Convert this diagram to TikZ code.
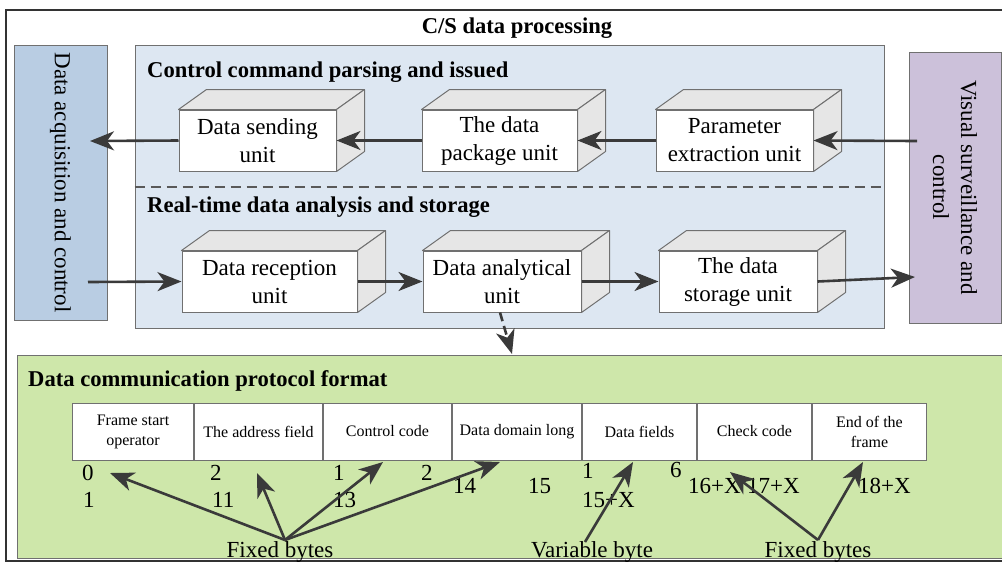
\documentclass[tikz,border=0pt]{standalone}
\usepackage{fontspec}
\setmainfont{Liberation Serif}
\usetikzlibrary{arrows.meta}

\definecolor{acqblue}{HTML}{B9CDE3}
\definecolor{panelblue}{HTML}{DDE7F2}
\definecolor{vispurple}{HTML}{CCC1DA}
\definecolor{protogreen}{HTML}{CEE7AA}
\definecolor{facegray}{HTML}{E6E6E6}
\definecolor{edgegray}{HTML}{707070}
\definecolor{arrowgray}{HTML}{3A3A3A}

\tikzset{
  big/.style={font=\fontsize{23}{28}\selectfont},
  head/.style={font=\fontsize{22.6}{27}\selectfont\bfseries},
  small/.style={font=\fontsize{16}{20}\selectfont},
  panel/.style={draw=edgegray, line width=1pt, inner sep=0pt},
  unitfront/.style={draw=edgegray, line width=1pt, fill=white, minimum height=61,
    inner sep=0pt, align=center, big},
  face/.style={draw=edgegray, line width=1pt, fill=facegray, line join=round},
  flow/.style={draw=arrowgray, line width=2.6pt,
    -{Stealth[length=24pt,width=19pt,inset=7pt]}},
  pointer/.style={draw=arrowgray, line width=2.6pt,
    -{Stealth[length=24pt,width=19pt,inset=7pt]}},
  cell/.style={draw=edgegray, line width=1pt, fill=white, minimum height=57,
    inner sep=0pt, align=center, small},
  num/.style={big, anchor=base west, inner sep=0pt},
}

% a processing unit drawn as a box: white front, grey top and side faces
\newcommand\unitblock[4]{%
  \node[unitfront, minimum width=#3] (#1) at (#2) {#4};
  \draw[face] (#1.north west) -- ++(28,-20) -- ([shift={(28,-20)}]#1.north east)
    -- (#1.north east) -- cycle;
  \draw[face] (#1.north east) -- ++(28,-20) -- ([shift={(28,-20)}]#1.south east)
    -- (#1.south east) -- cycle;
}

\begin{document}
\begin{tikzpicture}[x=1pt, y=-1pt]
\useasboundingbox (0,0) rectangle (1002,566);
\clip (0,0) rectangle (1002,566);

% outer frame and title
\draw[line width=1.6pt, draw=black!80] (6,10) rectangle (1015,561);
\node[head, anchor=base] (title) at (517,33) {C/S data processing};

% side blocks
\node[panel, fill=acqblue, minimum width=93, minimum height=275] (acq) at (60.5,182.5) {};
\node[big, rotate=-90] (acqlabel) at (acq.center) {Data acquisition and control};
\node[panel, fill=vispurple, minimum width=92, minimum height=271] (vis) at (955,187.5) {};
\node[big, rotate=-90, align=center] (vislabel) at (vis.center) {Visual surveillance and\\control};

% central processing panel
\node[panel, fill=panelblue, minimum width=749, minimum height=283] (core) at (509.5,186.5) {};
\draw[draw=black!65, line width=1.5pt, dash pattern=on 10pt off 6pt]
  (core.west |- 0,187) coordinate (sepL) -- (core.east |- 0,187) coordinate (sepR);
\node[head, anchor=base west, inner sep=0pt] (cmdhead) at (147,77) {Control command parsing and issued};
\node[head, anchor=base west, inner sep=0pt] (rthead) at (147,212) {Real-time data analysis and storage};

% command path
\unitblock{sending}{257.5,140.5}{157}{Data sending\\unit}
\unitblock{package}{499.5,140.5}{155}{The data\\package unit}
\unitblock{param}{734.5,140.5}{157}{Parameter\\extraction unit}

% data path
\unitblock{reception}{269.5,281.5}{175}{Data reception\\unit}
\unitblock{analysis}{502,281.5}{158}{Data analytical\\unit}
\unitblock{storage}{738,281.5}{158}{The data\\storage unit}

% connector end points inside the side blocks
\coordinate (acqin) at (90,141);
\coordinate (acqout) at (88,282);
\coordinate (visout) at (917,141);
\coordinate (visin) at (915,277);

\draw[flow] (visout) -- (param.east);
\draw[flow] (param.west) -- (package.east);
\draw[flow] (package.west) -- (sending.east);
\draw[flow] (sending.west) -- (acqin);

\draw[flow] (acqout) -- (reception.west);
\draw[flow] (reception.east) -- (analysis.west);
\draw[flow] (analysis.east) -- (storage.west);
\draw[flow] (storage.east) -- (visin);

% protocol panel
\node[panel, fill=protogreen, minimum width=1000, minimum height=203, anchor=north west] (proto) at (17,355) {};
\coordinate (protoin) at (512,354);
\draw[flow, dash pattern=on 9pt off 5pt] ([xshift=-2]analysis.south) -- (protoin);
\node[head, anchor=base west, inner sep=0pt] (protohead) at (28,386) {Data communication protocol format};

% frame layout
\node[cell, minimum width=121, anchor=west] (c1) at (72,431.5) {Frame start\\operator};
\node[cell, minimum width=128, anchor=west] (c2) at (c1.east) {The address field};
\node[cell, minimum width=128, anchor=west] (c3) at (c2.east) {Control code};
\node[cell, minimum width=129, anchor=west] (c4) at (c3.east) {Data domain long};
\node[cell, minimum width=114, anchor=west] (c5) at (c4.east) {Data fields};
\node[cell, minimum width=114, anchor=west] (c6) at (c5.east) {Check code};
\node[cell, minimum width=114, anchor=west] (c7) at (c6.east) {End of the\\frame};

% byte offsets
\node[num] (n0) at (82,480) {0};
\node[num] (n1) at (83,507) {1};
\node[num] (n2) at (210,480) {2};
\node[num] (n11) at (212,507) {11};
\node[num] (n1b) at (333,480) {1};
\node[num] (n13) at (333,507) {13};
\node[num] (n2b) at (421,480) {2};
\node[num] (n14) at (453,493) {14};
\node[num] (n15) at (528,493) {15};
\node[num] (n1c) at (582,478) {1};
\node[num] (n15x) at (582,507) {15+X};
\node[num] (n6) at (670,477) {6};
\node[num] (n16x) at (688,493) {16+X};
\node[num] (n17x) at (747,493) {17+X};
\node[num] (n18x) at (858,493) {18+X};

% byte class labels
\node[big, anchor=base, inner sep=0pt] (fixedA) at (280,557) {Fixed bytes};
\node[big, anchor=base, inner sep=0pt] (variable) at (592,557) {Variable byte};
\node[big, anchor=base, inner sep=0pt] (fixedB) at (818,557) {Fixed bytes};

\coordinate (fixedAsrc) at (285,540);
\coordinate (variablesrc) at (585,542);
\coordinate (fixedBsrc) at (818,540);
\coordinate (tipStart) at (110,473);
\coordinate (tipAddr) at (257,473);
\coordinate (tipCtrl) at (383,462);
\coordinate (tipLen) at (500,462);
\coordinate (tipData) at (633,462);
\coordinate (tipCheck) at (730,472);
\coordinate (tipEnd) at (863,462);

\draw[pointer] (fixedAsrc) -- (tipStart);
\draw[pointer] (fixedAsrc) -- (tipAddr);
\draw[pointer] (fixedAsrc) -- (tipCtrl);
\draw[pointer] (fixedAsrc) -- (tipLen);
\draw[pointer] (variablesrc) -- (tipData);
\draw[pointer] (fixedBsrc) -- (tipCheck);
\draw[pointer] (fixedBsrc) -- (tipEnd);
\end{tikzpicture}
\end{document}
